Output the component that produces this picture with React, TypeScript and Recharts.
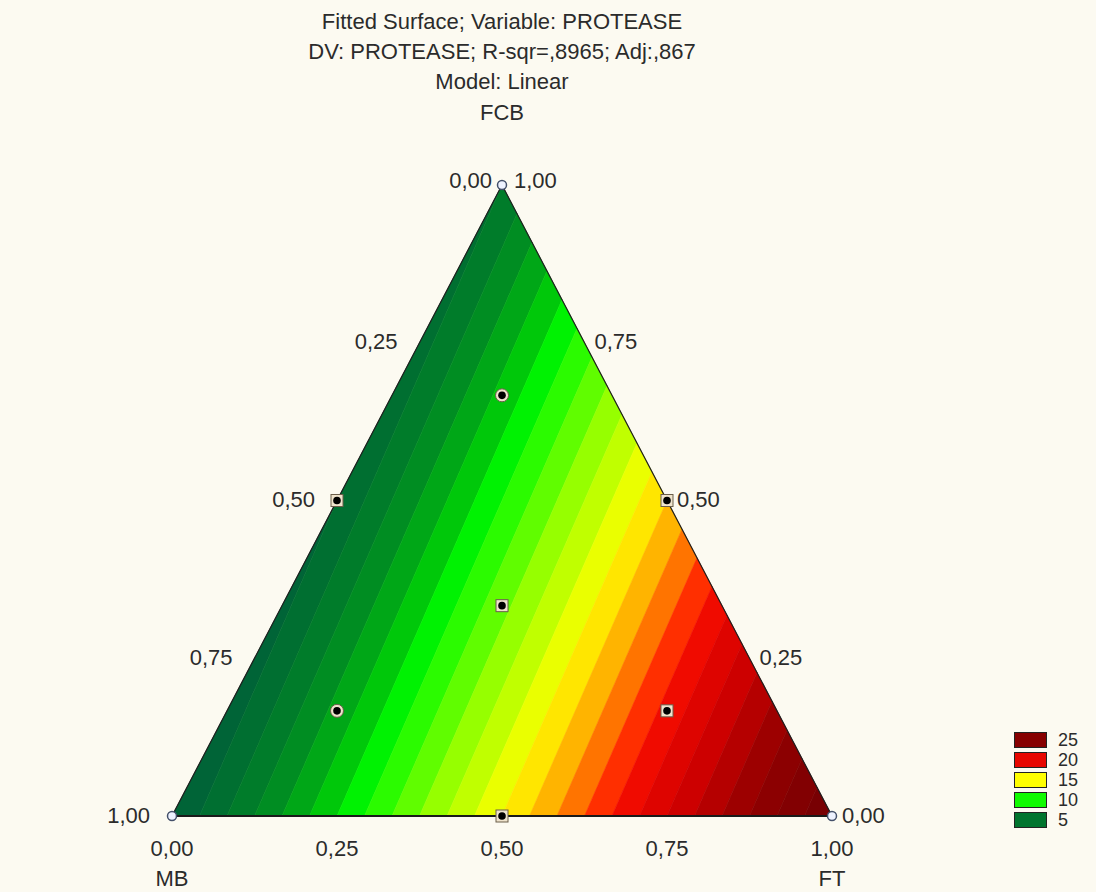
import { ScatterChart, Scatter, XAxis, YAxis } from 'recharts';

// mixture components, in the order MB, FCB, FT
const components = ['MB', 'FCB', 'FT'];
// fitted PROTEASE at the three pure-component vertices (linear model)
const vertexProtease = [3.0, 5.0, 27.0];
const contourStep = 1;

const legendLevels = [25, 20, 15, 10, 5];
const axisTicks = [0, 0.25, 0.5, 0.75, 1];
const tickText = ['0,00', '0,25', '0,50', '0,75', '1,00'];

// simplex-centroid design points
const designMB = [1, 0, 0, 0.5, 0.5, 0, 1 / 3, 2 / 3, 1 / 6, 1 / 6];
const designFCB = [0, 1, 0, 0.5, 0, 0.5, 1 / 3, 1 / 6, 2 / 3, 1 / 6];
const designFT = [0, 0, 1, 0, 0.5, 0.5, 1 / 3, 1 / 6, 1 / 6, 2 / 3];

const titleLines = [
  'Fitted Surface; Variable: PROTEASE',
  'DV: PROTEASE; R-sqr=,8965; Adj:,867',
  'Model: Linear',
];

const colorStops: [number, number[]][] = [
  [3, [0, 94, 58]],
  [5, [0, 116, 46]],
  [6, [0, 132, 38]],
  [7, [0, 150, 30]],
  [8.5, [0, 200, 10]],
  [9.7, [0, 250, 0]],
  [12.5, [150, 255, 0]],
  [15, [255, 255, 0]],
  [16.8, [255, 165, 0]],
  [18.6, [255, 40, 0]],
  [19.6, [238, 8, 0]],
  [21.5, [205, 0, 0]],
  [24, [145, 0, 0]],
  [27, [115, 0, 4]],
];

const FONT = '"Liberation Sans", Arial, sans-serif';
const TEXT = '#2b2b2b';

type Pt = { x: number; y: number; v: number };

function toXY(mb: number, fcb: number, ft: number) {
  return {
    x: ft + fcb / 2,
    y: fcb,
    v: mb * vertexProtease[0] + fcb * vertexProtease[1] + ft * vertexProtease[2],
  };
}

function colorAt(v: number): string {
  let i = 0;
  while (i < colorStops.length - 2 && v > colorStops[i + 1][0]) i++;
  const [v0, c0] = colorStops[i];
  const [v1, c1] = colorStops[i + 1];
  const t = Math.max(0, Math.min(1, (v - v0) / (v1 - v0)));
  const c = c0.map((a, k) => Math.round(a + (c1[k] - a) * t));
  return `rgb(${c[0]},${c[1]},${c[2]})`;
}

function clip(poly: Pt[], level: number, above: boolean): Pt[] {
  const out: Pt[] = [];
  const inside = (p: Pt) => (above ? p.v >= level : p.v <= level);
  for (let i = 0; i < poly.length; i++) {
    const a = poly[i];
    const b = poly[(i + 1) % poly.length];
    if (inside(a)) out.push(a);
    if (inside(a) !== inside(b)) {
      const t = (level - a.v) / (b.v - a.v);
      out.push({ x: a.x + t * (b.x - a.x), y: a.y + t * (b.y - a.y), v: level });
    }
  }
  return out;
}

const triangle: Pt[] = [toXY(1, 0, 0), toXY(0, 0, 1), toXY(0, 1, 0)];
const bottomEdge: Pt[] = [toXY(1, 0, 0), toXY(0, 0, 1)];

const lo = Math.floor(Math.min(...vertexProtease));
const hi = Math.ceil(Math.max(...vertexProtease));
const bands: { level: number; pts: Pt[] }[] = [];
for (let L = lo; L < hi; L += contourStep) {
  const pts = clip(clip(triangle, L, true), L + contourStep, false);
  if (pts.length >= 3) bands.push({ level: L + contourStep / 2, pts });
}

// tick labels along the three edges
const mbTicks = axisTicks.map((m, i) => ({ ...toXY(m, 1 - m, 0), label: tickText[i], apex: m === 0 }));
const fcbTicks = axisTicks.map((f, i) => ({ ...toXY(0, f, 1 - f), label: tickText[i], apex: f === 1 }));
const ftTicks = axisTicks.map((t, i) => ({ ...toXY(1 - t, 0, t), label: tickText[i], apex: false }));
const nameMarks = [
  { ...toXY(0, 1, 0), label: components[1], dy: -73 },
  { ...toXY(1, 0, 0), label: components[0], dy: 62 },
  { ...toXY(0, 0, 1), label: components[2], dy: 62 },
];

const design = designMB.map((mb, i) => ({
  ...toXY(mb, designFCB[i], designFT[i]),
  vertex: Math.max(mb, designFCB[i], designFT[i]) === 1,
  square: Math.min(mb, designFCB[i], designFT[i]) === 0 || designFT[i] >= 1 / 3,
}));

const none = () => <g />;

function polygonLine(fill: string, stroke: string, strokeWidth: number) {
  return (p: any) => (
    <polygon
      points={p.points.map((q: any) => `${q.x},${q.y}`).join(' ')}
      fill={fill}
      stroke={stroke}
      strokeWidth={strokeWidth}
    />
  );
}

function tickLabel(anchor: 'start' | 'middle' | 'end', dx: number, dy: number, apexDx = 0) {
  return (p: any) => (
    <text
      x={p.cx + dx + (p.payload.apex ? apexDx : 0)}
      y={p.cy + (p.payload.apex ? -5 : dy)}
      textAnchor={anchor}
      dominantBaseline="central"
      fontFamily={FONT}
      fontSize={22}
      fill={TEXT}
    >
      {p.payload.label}
    </text>
  );
}

function nameLabel(p: any) {
  return (
    <text
      x={p.cx}
      y={p.cy + p.payload.dy}
      textAnchor="middle"
      dominantBaseline="central"
      fontFamily={FONT}
      fontSize={22}
      fill={TEXT}
    >
      {p.payload.label}
    </text>
  );
}

function designMarker(p: any) {
  const { cx, cy, payload } = p;
  if (payload.vertex) {
    return <circle cx={cx} cy={cy} r={4.5} fill="#eef2ff" stroke="#44506a" strokeWidth={1.5} />;
  }
  return (
    <g>
      {payload.square ? (
        <rect x={cx - 6} y={cy - 6} width={12} height={12} fill="#efe3cc" stroke="#6b5e4a" strokeWidth={1} />
      ) : (
        <circle cx={cx} cy={cy} r={6.5} fill="#efe3cc" stroke="#6b5e4a" strokeWidth={1} />
      )}
      <circle cx={cx} cy={cy} r={3.8} fill="#000" />
    </g>
  );
}

export default function App() {
  return (
    <div
      style={{
        position: 'absolute',
        left: 0,
        top: 0,
        width: 1096,
        height: 892,
        background: '#fcfaf1',
        fontFamily: FONT,
        color: TEXT,
        overflow: 'hidden',
      }}
    >
      {titleLines.map((t, i) => (
        <div
          key={t}
          style={{
            position: 'absolute',
            left: 0,
            width: 1004,
            top: 7 + i * 30,
            lineHeight: '30px',
            fontSize: 22,
            textAlign: 'center',
            whiteSpace: 'nowrap',
          }}
        >
          {t}
        </div>
      ))}

      <div style={{ position: 'absolute', left: 0, top: 0 }}>
        <ScatterChart
          width={1096}
          height={892}
          margin={{ top: 185, right: 264, bottom: 76, left: 172 }}
        >
          <XAxis type="number" dataKey="x" domain={[0, 1]} hide />
          <YAxis type="number" dataKey="y" domain={[0, 1]} hide />
          {bands.map((b) => (
            <Scatter
              key={b.level}
              data={b.pts}
              shape={none}
              line={polygonLine(colorAt(b.level), colorAt(b.level), 0.6)}
              isAnimationActive={false}
            />
          ))}
          <Scatter
            data={triangle}
            shape={none}
            line={polygonLine('none', '#1e1e1e', 1.2)}
            isAnimationActive={false}
          />
          <Scatter
            data={bottomEdge}
            shape={none}
            line={{ stroke: '#1a1a1a', strokeWidth: 2.2 }}
            isAnimationActive={false}
          />
          <Scatter data={mbTicks} shape={tickLabel('end', -22, -1, 12)} isAnimationActive={false} />
          <Scatter data={fcbTicks} shape={tickLabel('start', 10, -1, 2)} isAnimationActive={false} />
          <Scatter data={ftTicks} shape={tickLabel('middle', 0, 32)} isAnimationActive={false} />
          <Scatter data={nameMarks} shape={nameLabel} isAnimationActive={false} />
          <Scatter data={design} shape={designMarker} isAnimationActive={false} />
        </ScatterChart>
      </div>

      <div style={{ position: 'absolute', left: 1014, top: 730 }}>
        {legendLevels.map((lv) => (
          <div key={lv} style={{ display: 'flex', alignItems: 'center', height: 20 }}>
            <div
              style={{
                width: 33,
                height: 16,
                background: colorAt(lv),
                border: '1px solid #222',
                boxSizing: 'border-box',
              }}
            />
            <span style={{ marginLeft: 11, fontSize: 18, lineHeight: '18px' }}>{lv}</span>
          </div>
        ))}
      </div>
    </div>
  );
}
